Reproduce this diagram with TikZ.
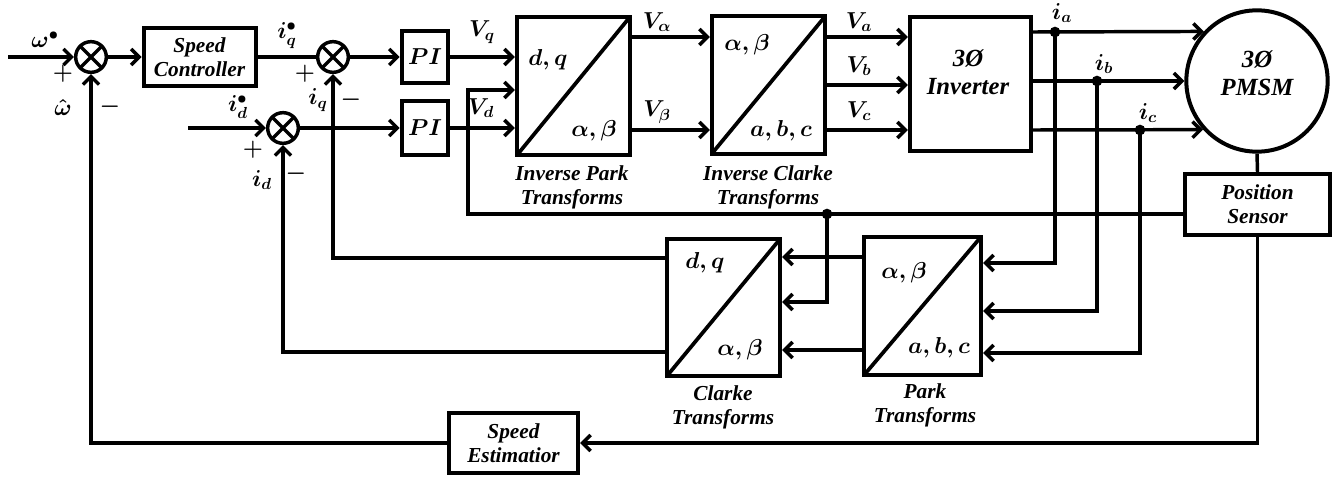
\documentclass[tikz,border=0pt]{standalone}
\usepackage{fontspec}
\setmainfont{Liberation Serif}
\usetikzlibrary{arrows.meta}
\newcommand\lbl{\fontsize{16}{18}\selectfont\bfseries\itshape\boldmath}
\newcommand\mlbl{\fontsize{17.5}{19}\selectfont\bfseries\itshape\boldmath}
\newcommand\biglbl{\fontsize{18.5}{21}\selectfont\bfseries\itshape\boldmath}
\tikzset{
  ln/.style={line width=2.6pt},
  arr/.style={line width=2.6pt, -{Straight Barb[length=6pt,width=12pt]}},
  blk/.style={draw, line width=3pt, inner sep=0pt, align=center, font=\lbl},
  sumj/.style={circle, draw, line width=2.6pt, minimum size=23pt, inner sep=0pt,
    path picture={\draw[line width=2.4pt]
      (path picture bounding box.north west) -- (path picture bounding box.south east)
      (path picture bounding box.north east) -- (path picture bounding box.south west);}},
  xfm/.style={blk, path picture={\draw[line width=2.8pt]
      (path picture bounding box.south west) -- (path picture bounding box.north east);}},
  jdot/.style={circle, fill, inner sep=0pt, minimum size=8pt},
  txt/.style={inner sep=0pt, align=center, font=\lbl},
  mtxt/.style={inner sep=0pt, align=center, font=\mlbl},
}
\begin{document}
\begin{tikzpicture}[x=0.75pt, y=-0.75pt]
\useasboundingbox (0,0) rectangle (1343,485);

% blocks
\node[sumj] (s1) at (91,57) {};
\node[blk, minimum width=84pt, minimum height=43pt] (sc) at (199.5,57) {Speed\\Controller};
\node[sumj] (s2) at (333,57) {};
\node[sumj] (s3) at (283,128) {};
\node[blk, minimum width=35pt, minimum height=39pt, font=\mlbl] (pi1) at (425,57) {$PI$};
\node[blk, minimum width=35pt, minimum height=40pt, font=\mlbl] (pi2) at (425,128) {$PI$};
\node[xfm, minimum width=85pt, minimum height=104pt] (ip) at (573.5,86) {};
\node[xfm, minimum width=85pt, minimum height=103pt] (ic) at (768.5,85) {};
\node[blk, minimum width=91pt, minimum height=101pt] (inv) at (970.5,84) {};
\node[circle, draw, line width=3pt, minimum size=106pt, inner sep=0pt] (m) at (1257,81) {};
\node[blk, minimum width=109pt, minimum height=46pt] (ps) at (1257.5,204.5) {Position\\Sensor};
\node[blk, minimum width=97pt, minimum height=45pt] (se) at (513.5,443) {Speed\\Estimatior};
\node[xfm, minimum width=85pt, minimum height=103pt] (ck) at (723.5,307.5) {};
\node[xfm, minimum width=88pt, minimum height=104pt] (pk) at (922.5,306) {};

% texts inside blocks
\node[mtxt] (ipt1) at (548,60) {$d,q$};
\node[mtxt] (ipt2) at (594,131) {$\alpha,\beta$};
\node[mtxt] (ict1) at (747,45) {$\alpha,\beta$};
\node[mtxt] (ict2) at (781,131) {$a,b,c$};
\node[txt, font=\biglbl] (invt) at (968,72) {3Ø\\Inverter};
\node[txt, font=\biglbl] (mt) at (1257,73) {3Ø\\PMSM};
\node[mtxt] (ckt1) at (705,263) {$d,q$};
\node[mtxt] (ckt2) at (740,350) {$\alpha,\beta$};
\node[mtxt] (pkt1) at (904,273) {$\alpha,\beta$};
\node[mtxt] (pkt2) at (939,348) {$a,b,c$};

% captions
\node[txt] (ipc) at (572,187) {Inverse Park\\Transforms};
\node[txt] (icc) at (768,187) {Inverse Clarke\\Transforms};
\node[txt] (ckc) at (723,407) {Clarke\\Transforms};
\node[txt] (pkc) at (925,405) {Park\\Transforms};

% signal labels
\node[mtxt] (lw) at (45,40) {$\omega^{\bullet}$};
\node[mtxt] (lp1) at (63,74) {$+$};
\node[mtxt] (lwh) at (63,108) {$\hat{\omega}$};
\node[mtxt] (lm1) at (110,107) {$-$};
\node[mtxt] (liqs) at (287,36) {$i_q^{\bullet}$};
\node[mtxt] (lp2) at (305,74) {$+$};
\node[mtxt] (liq) at (318,100) {$i_q$};
\node[mtxt] (lm2) at (351,100) {$-$};
\node[mtxt] (lids) at (238,107) {$i_d^{\bullet}$};
\node[mtxt] (lp3) at (253,150) {$+$};
\node[mtxt] (lid) at (262,180) {$i_d$};
\node[mtxt] (lm3) at (296,174) {$-$};
\node[mtxt] (lvq) at (482,32) {$V_q$};
\node[mtxt] (lvd) at (481,108) {$V_d$};
\node[mtxt] (lva) at (657,22) {$V_\alpha$};
\node[mtxt] (lvb) at (657,112) {$V_\beta$};
\node[mtxt] (lVa) at (859,22) {$V_a$};
\node[mtxt] (lVb) at (859,66) {$V_b$};
\node[mtxt] (lVc) at (859,111) {$V_c$};
\node[mtxt] (lia) at (1062,13) {$i_a$};
\node[mtxt] (lib) at (1104,64) {$i_b$};
\node[mtxt] (lic) at (1148,113) {$i_c$};

% junction dots
\node[jdot] (da) at (1055,32) {};
\node[jdot] (db) at (1097,81) {};
\node[jdot] (dc) at (1140,130) {};
\node[jdot] (dp) at (827,214) {};
\coordinate (win) at (8,57);
\coordinate (idin) at (188,128);

% forward path
\draw[arr] (win) -- (s1.west);
\draw[arr] (s1.east) -- (sc.west);
\draw[ln] (sc.east) -- (s2.west);
\draw[arr] (s2.east) -- (pi1.west);
\draw[arr] (idin) -- (s3.west);
\draw[arr] (s3.east) -- (pi2.west);
\draw[arr] (pi1.east) -- (ip.west |- pi1.east);
\draw[arr] (pi2.east) -- (ip.west |- pi2.east);
\draw[arr] (ip.east |- 0,37) -- (ic.west |- 0,37);
\draw[arr] (ip.east |- 0,130) -- (ic.west |- 0,130);
\draw[arr] (ic.east |- 0,37) -- (inv.west |- 0,37);
\draw[arr] (ic.east |- 0,85) -- (inv.west |- 0,85);
\draw[arr] (ic.east |- 0,130) -- (inv.west |- 0,130);
\draw[arr] (inv.east |- 0,32) -- (m.137.8);
\draw[arr] (inv.east |- 0,81) -- (m.west);
\draw[arr] (inv.east |- 0,130) -- (m.222.2);

% current measurement
\draw[arr] (da.center) |- (pk.east |- 0,263);
\draw[arr] (db.center) |- (pk.east |- 0,311);
\draw[arr] (dc.center) |- (pk.east |- 0,353);
\draw[arr] (pk.west |- 0,257) -- (ck.east |- 0,257);
\draw[arr] (pk.west |- 0,350) -- (ck.east |- 0,350);

% position sensor
\draw[ln] (m.south) -- (ps.north);
\draw[arr] (ps.west |- 0,214) -| (468,90) -- (ip.west |- 0,90);
\draw[arr] (dp.center) |- (ck.east |- 0,302);

% feedback to summing junctions
\draw[arr] (ck.west |- 0,258) -| (s2.south);
\draw[arr] (ck.west |- 0,352) -| (s3.south);
\draw[arr] (ps.south) |- (se.east);
\draw[arr] (se.west) -| (s1.south);
\end{tikzpicture}
\end{document}
